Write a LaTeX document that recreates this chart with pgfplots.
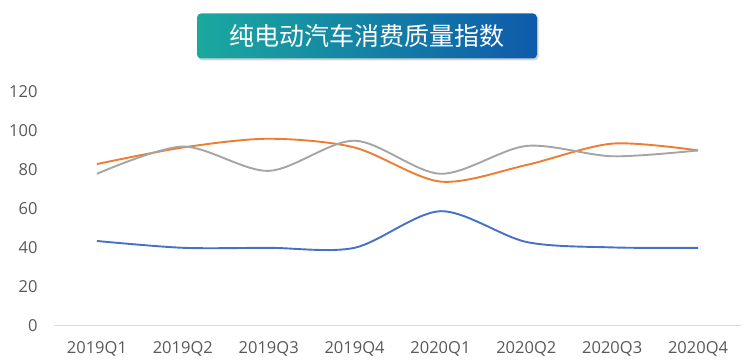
\documentclass[border=0pt]{standalone}
\usepackage{pgfplots}
\pgfplotsset{compat=1.18}
\usepackage{fontspec}
\setmainfont{Open Sans}
\newfontfamily\cjk{Noto Sans CJK SC}
\usetikzlibrary{shadows}
\definecolor{sblue}{HTML}{4472C4}
\definecolor{sorange}{HTML}{ED7D31}
\definecolor{sgray}{HTML}{A5A5A5}
\definecolor{ticktext}{HTML}{595959}
\definecolor{axisline}{HTML}{D9D9D9}
\definecolor{tleft}{HTML}{1AA99F}
\definecolor{tright}{HTML}{0E5BAB}
\begin{document}
\begin{tikzpicture}[x=1pt,y=1pt]
\useasboundingbox (0,0) rectangle (744,362);
\begin{axis}[
  at={(54pt,36.3pt)}, anchor=south west,
  scale only axis, width=687pt, height=233.7pt,
  xmin=-0.5, xmax=7.5, ymin=0, ymax=120,
  xtick={0,...,7},
  xticklabels={2019Q1,2019Q2,2019Q3,2019Q4,2020Q1,2020Q2,2020Q3,2020Q4},
  ytick={0,20,...,120},
  axis x line*=bottom, axis y line*=left,
  x axis line style={draw=axisline, line width=0.8pt, -},
  y axis line style={draw=none},
  major tick length=0pt,
  tick style={draw=none},
  ticklabel style={font=\fontsize{16.5}{19}\selectfont, text=ticktext},
  /pgf/number format/assume math mode=true,
  xticklabel style={yshift=-12pt},
  yticklabel style={xshift=-13pt},
  clip=false,
]
\addplot[sblue, line width=1.9pt, smooth, tension=0.5] coordinates {
 (0,43.5) (1,40) (2,40) (3,40) (4,58.8) (5,43) (6,40.2) (7,40)};
\addplot[sorange, line width=1.9pt, smooth, tension=0.5] coordinates {
 (0,83) (1,91.5) (2,96) (3,91.5) (4,74) (5,82.5) (6,93.5) (7,90)};
\addplot[sgray, line width=1.9pt, smooth, tension=0.5] coordinates {
 (0,78) (1,92) (2,79.5) (3,95) (4,78) (5,92.3) (6,87) (7,90)};
\end{axis}
\node[rounded corners=4pt, left color=tleft, right color=tright,
  minimum width=340pt, minimum height=45pt, inner sep=0pt,
  drop shadow={shadow xshift=1.5pt, shadow yshift=-2pt, opacity=0.35},
  text=white, font=\cjk\fontsize{25}{28}\selectfont]
  at (367,326) {纯电动汽车消费质量指数};
\end{tikzpicture}
\end{document}
